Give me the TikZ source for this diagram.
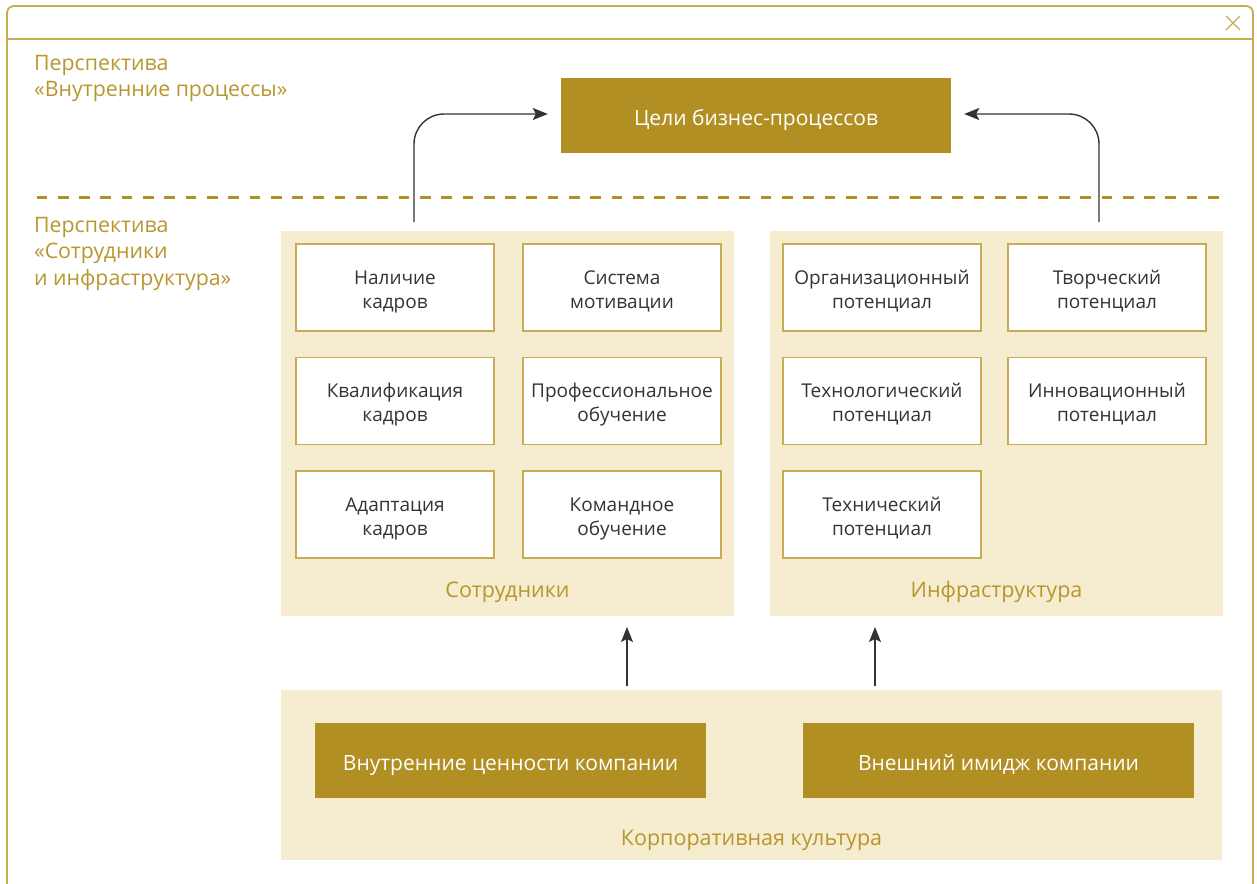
\documentclass[tikz,border=0pt]{standalone}
\usepackage{fontspec}
\setmainfont{Open Sans}
\usetikzlibrary{arrows.meta}
\definecolor{gold}{HTML}{B28F22}
\definecolor{goldtext}{HTML}{B8962E}
\definecolor{goldline}{HTML}{C9AB55}
\definecolor{cream}{HTML}{F6ECCF}
\definecolor{ink}{HTML}{333333}
% struts that fix where the lines sit inside the boxes
\newcommand\toprule{\rule{0pt}{23bp}}
\newcommand\botrule{\rule[-6bp]{0pt}{6bp}}
\newcommand\boxstrut{\rule[-6bp]{0pt}{32bp}}
\tikzset{
  cell/.style={draw=goldline, line width=1.2bp, fill=white, text=ink, align=center,
    minimum width=198bp, minimum height=87bp, inner sep=0pt,
    font=\fontsize{19bp}{24bp}\selectfont},
  goldbox/.style={fill=gold, draw=none, text=white, align=center,
    minimum height=75bp, inner sep=0pt, font=\fontsize{21bp}{26bp}\selectfont},
  caption/.style={text=goldtext, font=\fontsize{21.5bp}{26bp}\selectfont, inner sep=0pt, anchor=base},
  sidelabel/.style={text=goldtext, align=left, anchor=north west, inner sep=0pt,
    font=\fontsize{21.3bp}{26.5bp}\selectfont},
  arr/.style={draw=ink, line width=1.4bp, -{Stealth[length=15bp, width=12bp, inset=3bp]}},
}
\begin{document}
\begin{tikzpicture}[x=1bp, y=-1bp]
\useasboundingbox (0,0) rectangle (1257,884);
% window frame with title bar
\draw[goldline, line width=1.8bp, rounded corners=7bp] (7,884) -- (7,6) -- (1253,6) -- (1253,884);
\draw[goldline, line width=1.5bp] (7,39) -- (1253,39);
\draw[goldline, line width=1.3bp] (1226,16) -- (1240,30) (1240,16) -- (1226,30);

% perspective labels
\node[sidelabel] (lblA) at (34,55) {Перспектива\\«Внутренние процессы»};
\node[sidelabel] (lblB) at (34,217) {Перспектива\\«Сотрудники\\и инфраструктура»};
\draw[gold, line width=3bp, dash pattern=on 10.7bp off 10.6bp] (36.5,197) -- (1222,197);

% goal
\node[goldbox, minimum width=390bp] (goal) at (756,115.5) {\boxstrut Цели бизнес-процессов};

% panels
\fill[cream] (281,231) rectangle (734,616);
\fill[cream] (770,231) rectangle (1223,616);
\fill[cream] (281,690) rectangle (1222,860);
\node[caption] (capL) at (507.5,597) {Сотрудники};
\node[caption] (capR) at (996.5,597) {Инфраструктура};
\node[caption] (capB) at (751.5,845) {Корпоративная культура};

% staff
\node[cell] (s1) at (395,287.5) {\toprule Наличие\\\botrule кадров};
\node[cell] (s2) at (622,287.5) {\toprule Система\\\botrule мотивации};
\node[cell] (s3) at (395,401) {\toprule Квалификация\\\botrule кадров};
\node[cell] (s4) at (622,401) {\toprule Профессиональное\\\botrule обучение};
\node[cell] (s5) at (395,514.5) {\toprule Адаптация\\\botrule кадров};
\node[cell] (s6) at (622,514.5) {\toprule Командное\\\botrule обучение};

% infrastructure
\node[cell] (i1) at (882,287.5) {\toprule Организационный\\\botrule потенциал};
\node[cell] (i2) at (1107,287.5) {\toprule Творческий\\\botrule потенциал};
\node[cell] (i3) at (882,401) {\toprule Технологический\\\botrule потенциал};
\node[cell] (i4) at (1107,401) {\toprule Инновационный\\\botrule потенциал};
\node[cell] (i5) at (882,514.5) {\toprule Технический\\\botrule потенциал};

% corporate culture
\node[goldbox, minimum width=391bp] (c1) at (510.5,760.5) {\boxstrut Внутренние ценности компании};
\node[goldbox, minimum width=391bp] (c2) at (998.5,760.5) {\boxstrut Внешний имидж компании};

% connectors
\coordinate (fromL) at (414,222);
\coordinate (fromR) at (1099,222);
\coordinate (upL0) at (627,686);
\coordinate (upL1) at (627,627);
\coordinate (upR0) at (875,686);
\coordinate (upR1) at (875,627);
\draw[arr, rounded corners=30bp] (fromL) |- ([xshift=-13bp, yshift=1.5bp]goal.west);
\draw[arr, rounded corners=30bp] (fromR) |- ([xshift=13bp, yshift=1.5bp]goal.east);
\draw[arr] (upL0) -- (upL1);
\draw[arr] (upR0) -- (upR1);
\end{tikzpicture}
\end{document}
